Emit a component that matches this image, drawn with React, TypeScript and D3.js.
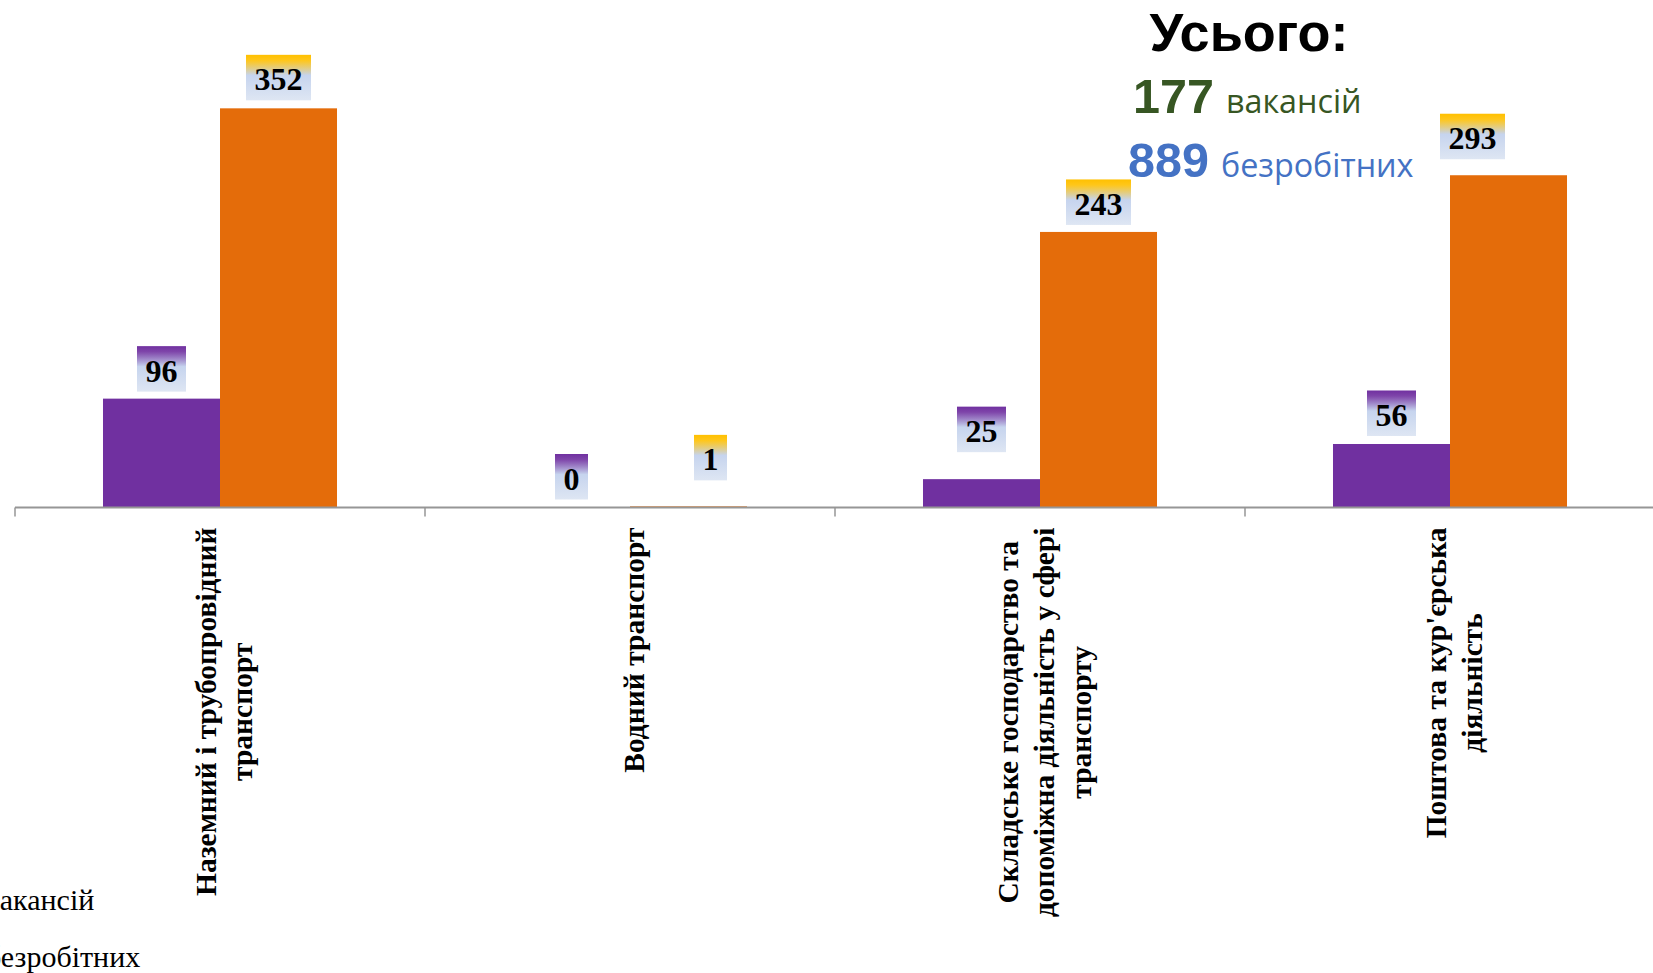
import React, { useEffect, useRef } from 'react';
import * as d3 from 'd3';

// categories (lines of the rotated axis labels)
const categories = [
  ['Наземний і трубопровідний', 'транспорт'],
  ['Водний транспорт'],
  ['Складське господарство та', 'допоміжна діяльність у сфері', 'транспорту'],
  ['Поштова та кур\'єрська', 'діяльність'],
];
const vacancies = [96, 0, 25, 56];
const unemployed = [352, 1, 243, 293];
const seriesNames = ['вакансій', 'безробітних'];
const seriesColors = ['#7030A0', '#E46C0A'];
const labelTopColors = ['#7030A0', '#FFC000'];

// manual label nudges, as in the original slide
const labelGaps = [
  [7, 8, 27, 8],
  [8, 26, 7, 16],
];
const labelShiftX = [
  [0, 0, 0, 0],
  [0, 22, 0, -36],
];

const W = 1653;
const H = 973;

export default function App() {
  const svgRef = useRef<SVGSVGElement>(null);

  useEffect(() => {
    if (!svgRef.current) return;
    const svg = d3.select(svgRef.current);
    svg.selectAll('*').remove();

    const axisY = 507.5;
    const x0 = d3.scaleBand<number>()
      .domain(d3.range(categories.length))
      .range([15, 15 + 410 * categories.length])
      .paddingInner(0)
      .paddingOuter(0);
    const x1 = d3.scaleBand<number>()
      .domain([0, 1])
      .range([0, x0.bandwidth()])
      .paddingInner(0)
      .paddingOuter(0.752);
    const y = d3.scaleLinear().domain([0, 400]).range([axisY, 53.9]);

    const defs = svg.append('defs');
    labelTopColors.forEach((c, i) => {
      const g = defs.append('linearGradient')
        .attr('id', `lbl${i}`)
        .attr('x1', 0).attr('y1', 0).attr('x2', 0).attr('y2', 1);
      g.append('stop').attr('offset', '0%').attr('stop-color', c);
      g.append('stop').attr('offset', '12%').attr('stop-color', c).attr('stop-opacity', 0.9);
      g.append('stop').attr('offset', '45%').attr('stop-color', '#C6D4EE');
      g.append('stop').attr('offset', '100%').attr('stop-color', '#DEE6F3');
    });

    const series = [vacancies, unemployed];

    // bars
    series.forEach((vals, s) => {
      svg.append('g')
        .selectAll('rect')
        .data(vals)
        .join('rect')
        .attr('x', (_, i) => x0(i)! + x1(s)!)
        .attr('y', d => y(d))
        .attr('width', x1.bandwidth())
        .attr('height', d => axisY - y(d))
        .attr('fill', seriesColors[s]);
    });

    // axis
    const ax = svg.append('g');
    ax.append('line')
      .attr('x1', 15).attr('x2', W)
      .attr('y1', axisY).attr('y2', axisY)
      .attr('stroke', '#969696').attr('stroke-width', 2);
    const tickXs = d3.range(categories.length + 1).map(i => 15 + x0.step() * i);
    ax.selectAll('line.tick')
      .data(tickXs)
      .join('line')
      .attr('class', 'tick')
      .attr('x1', d => d).attr('x2', d => d)
      .attr('y1', axisY).attr('y2', axisY + 9)
      .attr('stroke', '#969696').attr('stroke-width', 1.5);

    // value labels
    series.forEach((vals, s) => {
      vals.forEach((v, i) => {
        const cx = x0(i)! + x1(s)! + x1.bandwidth() / 2 + labelShiftX[s][i];
        const txt = String(v);
        const bw = txt.length * 16 + 17;
        const bh = 45.5;
        const bottom = y(v) - labelGaps[s][i];
        svg.append('rect')
          .attr('x', cx - bw / 2)
          .attr('y', bottom - bh)
          .attr('width', bw)
          .attr('height', bh)
          .attr('fill', `url(#lbl${s})`);
        svg.append('text')
          .attr('x', cx)
          .attr('y', bottom - 10)
          .attr('text-anchor', 'middle')
          .attr('font-family', '"Liberation Serif", "Times New Roman", serif')
          .attr('font-weight', 'bold')
          .attr('font-size', 32)
          .attr('fill', '#000')
          .text(txt);
      });
    });

    // rotated category labels
    categories.forEach((lines, i) => {
      const cx = x0(i)! + x0.bandwidth() / 2 + 4;
      const g = svg.append('g');
      const texts = lines.map((ln, k) =>
        g.append('text')
          .attr('text-anchor', 'middle')
          .attr('font-family', '"Liberation Serif", "Times New Roman", serif')
          .attr('font-weight', 'bold')
          .attr('font-size', 29.5)
          .attr('fill', '#000')
          .attr('x', 0)
          .attr('y', (k - (lines.length - 1) / 2) * 36.5 + 10)
          .text(ln)
      );
      const maxLen = d3.max(texts, t => (t.node() as SVGTextElement).getComputedTextLength()) || 0;
      g.attr('transform', `translate(${cx},${axisY + 20 + maxLen / 2}) rotate(-90)`);
    });

    // legend (partly off-canvas at the left, as in the original)
    const legendYs = [910, 967];
    seriesNames.forEach((name, s) => {
      svg.append('text')
        .attr('x', -14)
        .attr('y', legendYs[s])
        .attr('font-family', '"Liberation Serif", "Times New Roman", serif')
        .attr('font-size', 30)
        .attr('fill', '#000')
        .text(name);
    });

    // totals
    const totalV = d3.sum(vacancies);
    const totalU = d3.sum(unemployed);
    svg.append('text')
      .attr('x', 1249).attr('y', 51)
      .attr('text-anchor', 'middle')
      .attr('font-family', '"Liberation Sans", Arial, sans-serif')
      .attr('font-weight', 'bold')
      .attr('font-size', 54)
      .attr('fill', '#000')
      .text('Усього:');

    const totals = [
      { n: totalV, word: 'вакансій', color: '#375623', x: 1133, y: 113 },
      { n: totalU, word: 'безробітних', color: '#4472C4', x: 1128, y: 177 },
    ];
    totals.forEach(t => {
      const txt = svg.append('text')
        .attr('x', t.x).attr('y', t.y)
        .attr('fill', t.color);
      txt.append('tspan')
        .attr('font-family', '"Liberation Sans", Arial, sans-serif')
        .attr('font-weight', 'bold')
        .attr('font-size', 48.5)
        .text(String(t.n));
      txt.append('tspan')
        .attr('font-family', '"Open Sans", Calibri, sans-serif')
        .attr('font-size', 32.3)
        .attr('dx', 12)
        .text(t.word);
    });
  }, []);

  return (
    <div style={{ position: 'absolute', left: 0, top: 0, width: W, height: H, background: '#fff' }}>
      <svg ref={svgRef} width={W} height={H} style={{ display: 'block' }} />
    </div>
  );
}
